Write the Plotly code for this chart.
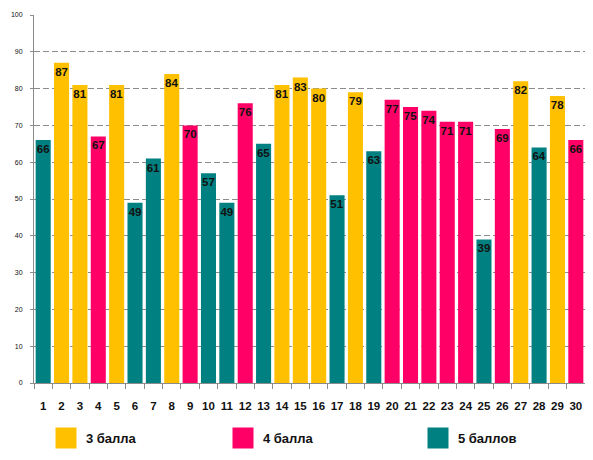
import plotly.graph_objects as go

students = [str(i) for i in range(1, 31)]
scores = [66, 87, 81, 67, 81, 49, 61, 84, 70, 57, 49, 76, 65, 81, 83,
          80, 51, 79, 63, 77, 75, 74, 71, 71, 39, 69, 82, 64, 78, 66]
grades = [5, 3, 3, 4, 3, 5, 5, 3, 4, 5, 5, 4, 5, 3, 3,
          3, 5, 3, 5, 4, 4, 4, 4, 4, 5, 4, 3, 5, 3, 4]

grade_levels = [3, 4, 5]
grade_names = ["3 балла", "4 балла", "5 баллов"]
grade_colors = ["#FFC000", "#FF0066", "#008080"]

# the page body has an 8px margin, so the figure is a bit smaller than the window
W, H = 577, 444
legend_x = [38, 215, 410]  # px inside the figure, left edge of each legend box

fig = go.Figure()

for g, name, color in zip(grade_levels, grade_names, grade_colors):
    xs = [s for s, gr in zip(students, grades) if gr == g]
    ys = [v for v, gr in zip(scores, grades) if gr == g]
    fig.add_trace(go.Bar(
        x=xs, y=ys,
        marker=dict(color=color, line=dict(width=0)),
        text=ys,
        textposition="inside",
        insidetextanchor="end",
        textangle=0,
        constraintext="none",
        textfont=dict(family="Liberation Sans", size=11.5, color="#111111", weight="bold"),
        showlegend=False,
        hoverinfo="x+y",
    ))

# legend-only entries, one legend per grade so they sit apart like the original
for i, (name, color) in enumerate(zip(grade_names, grade_colors)):
    fig.add_trace(go.Scatter(
        x=[None], y=[None], mode="markers", name=name,
        marker=dict(symbol="square", size=16, color=color, line=dict(color=color, width=5)),
        legend="legend" if i == 0 else f"legend{i + 1}",
    ))

legend_style = dict(
    orientation="h", xref="container", yref="container",
    xanchor="left", yanchor="middle", y=1 - 430 / H,
    bgcolor="rgba(0,0,0,0)",
    font=dict(family="Liberation Sans", size=13, color="#111111", weight="bold"),
)
fig.update_layout(
    legend=dict(legend_style, x=legend_x[0] / W),
    legend2=dict(legend_style, x=legend_x[1] / W),
    legend3=dict(legend_style, x=legend_x[2] / W),
)

fig.update_layout(
    width=W, height=H,
    margin=dict(l=26, r=0, t=7, b=69),
    barmode="overlay",
    bargap=0.18,
    paper_bgcolor="white",
    plot_bgcolor="white",
    xaxis=dict(
        type="category",
        categoryorder="array", categoryarray=students,
        tickson="boundaries",
        ticks="outside", ticklen=5, tickcolor="#8c8c8c",
        showline=True, linecolor="#8c8c8c", linewidth=1,
        showgrid=False,
        tickangle=0,
        automargin=False,
        ticklabelstandoff=12,
        tickfont=dict(family="Liberation Sans", size=11.5, color="#111111", weight="bold"),
    ),
    yaxis=dict(
        range=[0, 100], dtick=10,
        ticks="outside", ticklen=3, tickcolor="#8c8c8c",
        showline=True, linecolor="#8c8c8c", linewidth=1,
        showgrid=True, gridcolor="#8c8c8c", griddash="6px,3px", gridwidth=1,
        zeroline=False,
        automargin=False,
        ticklabelstandoff=6,
        tickfont=dict(family="Liberation Sans", size=7, color="#111111"),
    ),
)

fig.write_html("out.html")
